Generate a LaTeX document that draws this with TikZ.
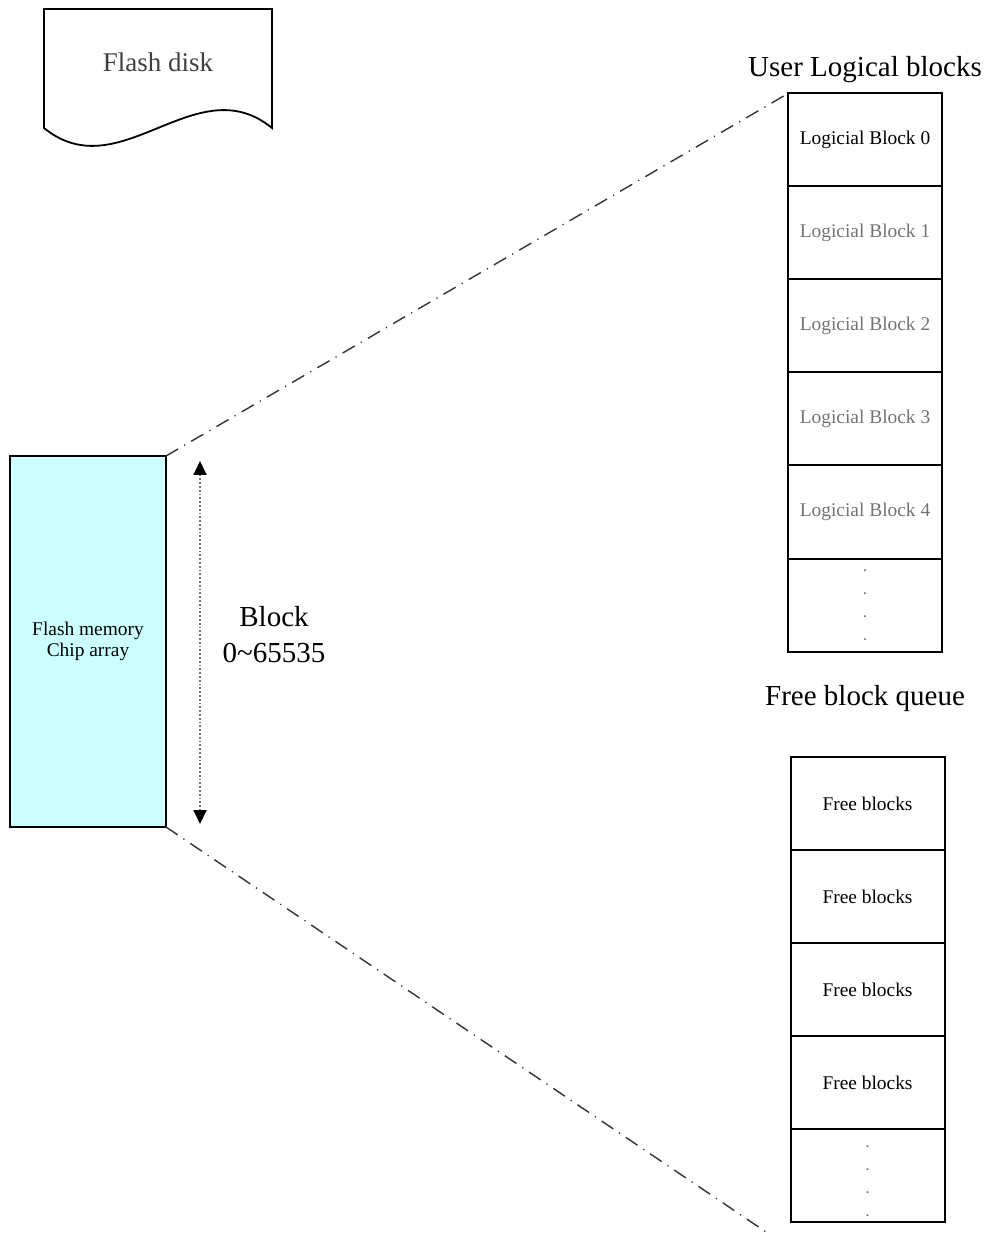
\documentclass[tikz,border=0pt]{standalone}
\usepackage{fontspec}
\setmainfont{Liberation Serif}
\usepackage{tikz}
\usetikzlibrary{positioning,arrows.meta}
\definecolor{chipcyan}{RGB}{204,255,255}

\begin{document}
\begin{tikzpicture}[x=0.5pt,y=-0.5pt,
	cell/.style={draw,line width=1pt,minimum width=77pt,minimum height=46.5pt,inner sep=0pt,outer sep=0pt,font=\fontsize{9.7}{11}\selectfont},
	title/.style={font=\fontsize{14.5}{18}\selectfont},
	moredots/.style={align=center,text=black!50,font=\fontsize{9}{11.5}\selectfont},
	zoomline/.style={black!80,line width=0.7pt,dash pattern=on 7pt off 3.5pt on 0.6pt off 3.5pt}]
	\useasboundingbox (0,0) rectangle (987,1234);
	% Flash disk symbol
	\draw[line width=0.9pt] (44,128) -- (44,9) -- (272,9) -- (272,128) .. controls (196,66) and (120,190) .. (44,128) -- cycle;
	\node[text=black!75,font=\fontsize{13.5}{16}\selectfont] (disklabel) at (158,62) {Flash disk};
	% Chip array
	\node[draw,fill=chipcyan,line width=1pt,minimum width=78pt,minimum height=185.5pt,inner sep=0pt,outer sep=0pt,align=center,font=\fontsize{9.7}{10.5}\selectfont] (chip) at (88,641.5) {Flash memory\\Chip array};
	\coordinate (rangetop) at (200,461);
	\coordinate (rangebot) at (200,824);
	\draw[densely dotted,black!55,line width=0.9pt,{Triangle[black,length=7pt,width=6.5pt]}-{Triangle[black,length=7pt,width=6.5pt]}] (rangetop) -- (rangebot);
	\node[title,align=center] (blockrange) at (274,635) {Block\\0\textasciitilde 65535};
	% User logical blocks
	\node[title] (usertitle) at (865,70) {User Logical blocks};
	\node[cell] (lb0) at (865,140) {Logicial Block 0};
	\foreach \i [remember=\i as \prev (initially 0)] in {1,...,4}
		\node[cell,text=black!55,below=0pt of lb\prev] (lb\i) {Logicial Block \i};
	\node[cell,below=0pt of lb4] (lbmore) {};
	\node[moredots] at (lbmore) {.\\.\\.\\.};
	% Free block queue
	\node[title] (queuetitle) at (865,699) {Free block queue};
	\node[cell] (fb1) at (867.5,803.5) {Free blocks};
	\foreach \i [remember=\i as \prev (initially 1)] in {2,3,4}
		\node[cell,below=0pt of fb\prev] (fb\i) {Free blocks};
	\node[cell,below=0pt of fb4] (fbmore) {};
	\node[moredots] at ([yshift=-3pt]fbmore) {.\\.\\.\\.};
	% Fan-out lines
	\coordinate (fanend) at (772,1236);
	\draw[zoomline] (chip.north east) -- (lb0.north west);
	\draw[zoomline] (chip.south east) -- (fanend);
\end{tikzpicture}
\end{document}
